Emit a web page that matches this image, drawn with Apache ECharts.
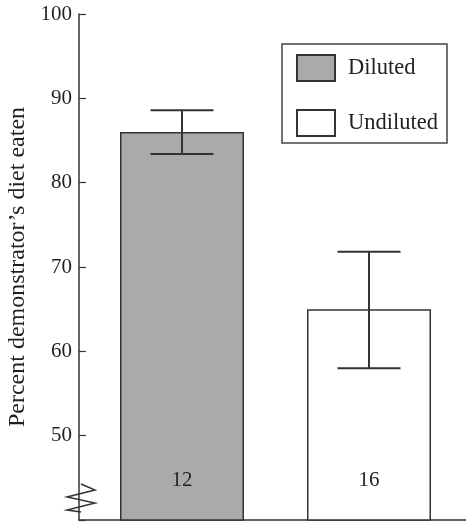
<!DOCTYPE html>
<html>
<head>
<meta charset="utf-8">
<script src="https://cdn.jsdelivr.net/npm/echarts@6/dist/echarts.min.js"></script>
<style>
html,body{margin:0;padding:0;background:#fff;}
#chart{width:466px;height:524px;}
</style>
</head>
<body>
<div id="chart"></div>
<script>
// ---- data ----
var categories = ['Diluted', 'Undiluted'];
var meanValues = [86.0, 65.0];
var errLow = [83.4, 58.0];
var errHigh = [88.6, 71.8];
var sampleSizes = [12, 16];
var yTicks = [50, 60, 70, 80, 90, 100];
var yLabel = 'Percent demonstrator\u2019s diet eaten';

var FONT = '"Liberation Serif", "Times New Roman", serif';
var INK = '#231f20';
var fills = ['#aaaaaa', '#ffffff'];

var chart = echarts.init(document.getElementById('chart'), null, {renderer: 'canvas'});

var barSeries = categories.map(function (name, i) {
  return {
    name: name,
    type: 'bar',
    xAxisIndex: 1,
    yAxisIndex: 1,
    barWidth: 124,
    barGap: '-100%',
    data: categories.map(function (c, j) { return j === i ? meanValues[j] : '-'; }),
    itemStyle: { color: fills[i], borderColor: '#333', borderWidth: 1.5 },
    label: {
      show: true,
      position: 'insideBottom',
      distance: 30,
      fontFamily: FONT,
      fontSize: 21,
      color: INK,
      formatter: function (p) { return String(sampleSizes[p.dataIndex]); }
    },
    emphasis: { disabled: true },
    silent: true,
    z: 2
  };
});

var errData = categories.map(function (c, i) { return [i, errLow[i], errHigh[i]]; });

var option = {
  animation: false,
  backgroundColor: '#fff',
  grid: [
    { left: 79, right: 0, top: 14, bottom: 4, containLabel: false, outerBoundsMode: 'none' },
    { left: 88.5, right: 3.5, top: 14, bottom: 4, containLabel: false, outerBoundsMode: 'none' }
  ],
  legend: {
    data: categories,
    orient: 'vertical',
    left: 282,
    top: 44,
    itemWidth: 38,
    itemHeight: 26,
    itemGap: 27,
    padding: [10, 9, 6, 14],
    borderColor: '#444',
    borderWidth: 1.5,
    selectedMode: false,
    icon: 'rect',
    textStyle: { fontFamily: FONT, fontSize: 22.5, color: INK, padding: [0, 0, 0, 8] }
  },
  xAxis: [
    {
      type: 'value', gridIndex: 0, min: 0, max: 1,
      axisLine: { show: true, onZero: false, lineStyle: { color: '#333', width: 1.5 } },
      axisTick: { show: false }, axisLabel: { show: false }, splitLine: { show: false }
    },
    {
      type: 'category', gridIndex: 1, data: categories, show: false
    }
  ],
  yAxis: [
    {
      type: 'value', gridIndex: 0, min: 40, max: 100, interval: 10,
      name: yLabel,
      nameLocation: 'middle',
      nameGap: 45,
      nameTextStyle: { fontFamily: FONT, fontSize: 24, color: INK },
      axisLine: { show: true, onZero: false, lineStyle: { color: '#333', width: 1.5 } },
      axisTick: { show: true, inside: true, length: 7, lineStyle: { color: '#333', width: 1.2 } },
      axisLabel: {
        margin: 7, fontFamily: FONT, fontSize: 21, color: INK,
        formatter: function (v) { return yTicks.indexOf(v) >= 0 ? String(v) : ''; }
      },
      splitLine: { show: false }
    },
    {
      type: 'value', gridIndex: 1, min: 40, max: 100, interval: 10, show: false
    }
  ],
  series: barSeries.concat([
    {
      type: 'custom',
      name: 'err',
      xAxisIndex: 1,
      yAxisIndex: 1,
      silent: true,
      z: 5,
      data: errData,
      renderItem: function (params, api) {
        var x = api.value(0);
        var lo = api.coord([x, api.value(1)]);
        var hi = api.coord([x, api.value(2)]);
        var half = 31.5;
        var st = { stroke: '#333', lineWidth: 2 };
        return {
          type: 'group',
          children: [
            { type: 'line', shape: { x1: lo[0], y1: lo[1], x2: hi[0], y2: hi[1] }, style: st },
            { type: 'line', shape: { x1: lo[0] - half, y1: lo[1], x2: lo[0] + half, y2: lo[1] }, style: st },
            { type: 'line', shape: { x1: hi[0] - half, y1: hi[1], x2: hi[0] + half, y2: hi[1] }, style: st }
          ]
        };
      }
    },
    {
      type: 'custom',
      name: 'break',
      xAxisIndex: 0,
      yAxisIndex: 0,
      silent: true,
      z: 6,
      data: [[0, 40]],
      renderItem: function (params, api) {
        var p = api.coord([api.value(0), api.value(1)]);
        var x0 = p[0], y0 = p[1];
        var pts = [
          [x0 + 2, y0 - 36], [x0 + 16, y0 - 30], [x0 - 12, y0 - 23],
          [x0 + 16, y0 - 17], [x0 - 12, y0 - 10], [x0 + 2, y0 - 8]
        ];
        return {
          type: 'polyline',
          shape: { points: pts },
          style: { stroke: '#333', lineWidth: 1.5, fill: null }
        };
      }
    }
  ])
};

chart.setOption(option);
</script>
</body>
</html>
